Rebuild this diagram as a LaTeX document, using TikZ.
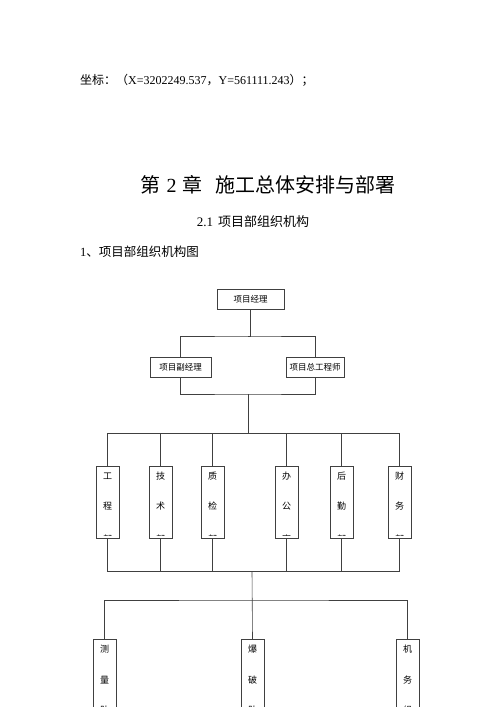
\documentclass[tikz,border=0pt]{standalone}
\usepackage{fontspec}
\setmainfont{Liberation Serif}
\newfontfamily\cjk{Noto Sans CJK SC}

\tikzset{
  box/.style={draw=black!75, line width=0.6pt, inner sep=0pt, minimum height=20pt, font=\cjk\fontsize{8.5}{10}\selectfont},
  vbox/.style={draw=black!75, line width=0.6pt, inner sep=0pt, minimum width=23pt},
  vchar/.style={inner sep=0pt, font=\cjk\fontsize{9}{10}\selectfont},
  link/.style={draw=black!75, line width=0.6pt},
}

\begin{document}
\begin{tikzpicture}[x=1pt, y=-1pt]
        \useasboundingbox (0,0) rectangle (500,707);
        \clip (0,0) rectangle (500,707);

        % text above the chart
        \node[anchor=west, inner sep=0pt, font=\fontsize{12}{14}\selectfont] (coord) at (80,80)
            {{\cjk 坐标：（}X=3202249.537{\cjk ，}Y=561111.243{\cjk ）；}};
        \node[inner sep=0pt, font=\fontsize{20}{24}\selectfont] (chap) at (268,185)
            {{\cjk 第}\hspace{6pt}2\hspace{6pt}{\cjk 章}\hspace{13pt}{\cjk 施工总体安排与部署}};
        \node[inner sep=0pt, font=\fontsize{13}{15}\selectfont] (sec) at (253,222)
            {2.1\hspace{5pt}{\cjk 项目部组织机构}};
        \node[anchor=west, inner sep=0pt, font=\fontsize{12.5}{15}\selectfont] (fig) at (80,252)
            {1{\cjk 、项目部组织机构图}};

        % management boxes
        \node[box, minimum width=67pt] (pm) at (250.5,299) {项目经理};
        \node[box, minimum width=61pt] (dpm) at (180.5,367) {项目副经理};
        \node[box, minimum width=58pt] (ce) at (315,367) {项目总工程师};

        \coordinate (j1) at (248,336);
        \coordinate (j2) at (248,394);
        \coordinate (j3) at (248,433);
        \draw[link] (pm.south) |- (j1);
        \draw[link] (dpm.north) |- (j1) -| (ce.north);
        \draw[link] (dpm.south) |- (j2) -| (ce.south);
        \draw[link] (j2) -- (j3);

        % departments
        \foreach \x/\n/\a/\b/\c in {107.5/gc/工/程/部, 160.5/js/技/术/部, 212.5/zj/质/检/部,
                                    286.5/bg/办/公/室, 341.5/hq/后/勤/部, 399.5/cw/财/务/部} {
            \node[vbox, minimum height=72pt] (\n) at (\x,502) {};
            \node[vchar] at (\x,476) {\a};
            \node[vchar] at (\x,506) {\b};
            \begin{scope}
                \clip (\n.north west) rectangle ([yshift=3pt]\n.south east);
                \node[vchar] at (\x,539) {\c};
            \end{scope}
            \draw[link] (\n.north) -- (\x,433);
            \draw[link] (\n.south) -- (\x,571);
        }
        \draw[link] (gc.north) |- (cw.north |- j3);
        \draw[link] (gc.south) |- (cw.south |- 0,571);

        % teams
        \coordinate (k1) at (252,571);
        \coordinate (k2) at (252,600);
        \foreach \x/\n/\a/\b/\c in {104.5/cl/测/量/队, 252.5/bp/爆/破/队, 407.5/jw/机/务/组} {
            \node[vbox, minimum height=121pt, anchor=north] (\n) at (\x,639) {};
            \node[vchar] at (\x,649) {\a};
            \node[vchar] at (\x,680) {\b};
            \node[vchar] at (\x,710) {\c};
        }
        \draw[link] (k1) -- (bp.north);
        \draw[link] (cl.north) |- (k2) -| (jw.north);

\end{tikzpicture}
\end{document}
